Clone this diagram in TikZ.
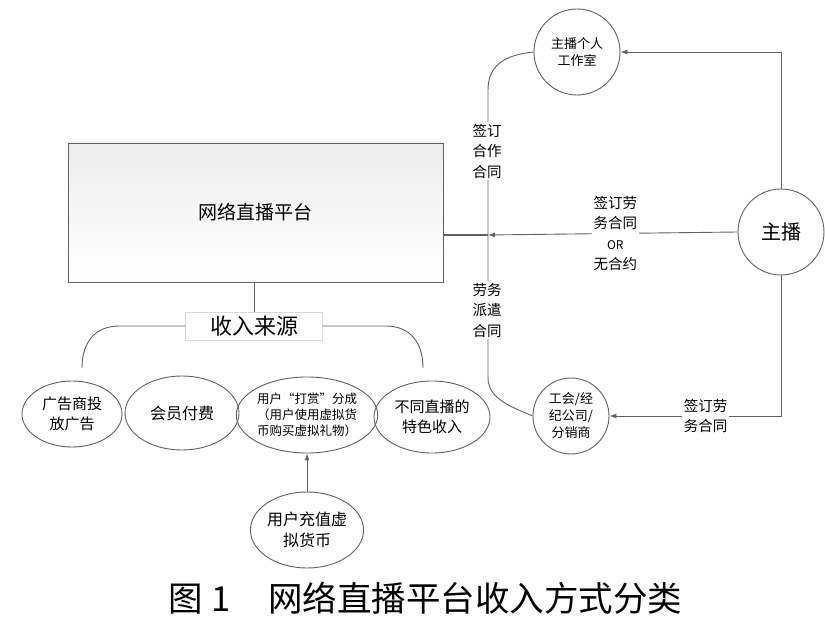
\documentclass[tikz,border=0pt]{standalone}
\usepackage{fontspec}
\setmainfont{Noto Sans CJK SC}
\usetikzlibrary{shapes.geometric,arrows.meta}

\begin{document}
\begin{tikzpicture}[x=1pt,y=-1pt,
  ln/.style={draw=black!62,line width=0.9pt},
  arr/.style={ln,-{Latex[length=7pt,width=5pt]}},
  circ/.style={ln,circle,minimum size=#1,inner sep=0pt,align=center,font=\fontsize{13}{17}\selectfont},
  ell/.style n args={2}{ln,ellipse,minimum width=#1,minimum height=#2,inner sep=0pt,align=center,font=\fontsize{15}{20}\selectfont},
  lbl/.style={fill=white,inner sep=2pt,align=center,font=\fontsize{14.5}{20.5}\selectfont}]
\useasboundingbox (0,0) rectangle (825,617);
% platform and anchor
\node[ln,top color=black!7,bottom color=white,minimum width=375pt,minimum height=139pt,font=\fontsize{19}{22}\selectfont] (plat) at (255.5,212.5) {网络直播平台};
\node[circ=86pt,font=\fontsize{20}{24}\selectfont] (zb) at (781,232) {主播};
\node[circ=86pt] (studio) at (577,52) {主播个人\\工作室};
\node[circ=76pt] (union) at (571,416) {工会/经\\纪公司/\\分销商};
\coordinate (J) at (488,235);
\coordinate (vtop) at (488,90);
\coordinate (vbot) at (488,378);
\draw[ln,line width=1.6pt] (plat.east |- J) -- (J);
\draw[ln] (studio.west) .. controls (505,55) and (488,65) .. (vtop) -- (vbot) .. controls (488,400) and (515,408) .. (union.west);
\node[lbl] (coop) at (487,151) {签订\\合作\\合同};
\node[lbl] (disp) at (487,310) {劳务\\派遣\\合同};
\draw[arr] (zb.west) -- node[lbl,pos=0.49]{签订劳\\务合同\\{\fontsize{12}{14}\selectfont OR}\\无合约} (J);
\draw[arr] (zb.north) |- (studio.east);
\draw[arr] (zb.south) |- node[lbl,pos=0.72]{签订劳\\务合同} (union.east);
% income sources
\node[draw=black!15,fill=white,minimum width=137pt,minimum height=28pt,font=\fontsize{22}{26}\selectfont] (src) at (254,326) {收入来源};
\draw[ln] (plat.south -| src.north) -- (src.north);
\coordinate (bl) at (82,368);
\coordinate (br) at (423,368);
\draw[ln] (src.west) -- ++(-66,0) .. controls +(-24,0) and +(0,-26) .. (bl);
\draw[ln] (src.east) -- ++(63,0) .. controls +(24,0) and +(0,-26) .. (br);
\node[ell={100pt}{66pt}] (ad) at (72,414) {广告商投\\放广告};
\node[ell={114pt}{74pt},font=\fontsize{16}{20}\selectfont] (vip) at (182,413) {会员付费};
\node[ell={134pt}{76pt},font=\fontsize{12.5}{16}\selectfont] (tip) at (307,415) {用户“打赏”分成\\（用户使用虚拟货\\币购买虚拟礼物）};
\node[ell={116pt}{72pt}] (spec) at (432,417) {不同直播的\\特色收入};
\node[ell={112pt}{76pt},font=\fontsize{16}{21}\selectfont] (rc) at (307,530) {用户充值虚\\拟货币};
\draw[arr] (rc.north) -- (tip.south);
% caption
\node[anchor=west,inner sep=0pt,font=\fontsize{34.5}{38}\selectfont] (cap) at (168,598) {图\hspace{0.25em}1\hspace{1.1em}网络直播平台收入方式分类};
\end{tikzpicture}
\end{document}
